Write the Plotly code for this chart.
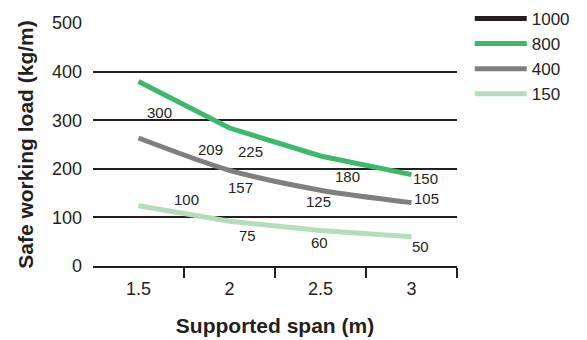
import plotly.graph_objects as go

# Supported span (m)
spans = [1.5, 2, 2.5, 3]
span_labels = ["1.5", "2", "2.5", "3"]

# Safe working load (kg/m) per series
load_1000 = [None, None, None, None]
load_800 = [300, 225, 180, 150]
load_400 = [209, 157, 125, 105]
load_150 = [100, 75, 60, 50]

series_names = ["1000", "800", "400", "150"]
series_values = [load_1000, load_800, load_400, load_150]
series_colors = ["#231f20", "#3cb96a", "#7f7f7d", "#b2dfba"]
series_shapes = ["linear", "linear", "spline", "linear"]
series_axes = ["y", "y2", "y2", "y2"]

# Pixel offsets of each value label from its point
label_offsets = {
    "800": [(21, -31), (21, -23), (27, -20), (14, -4)],
    "400": [(72, -12), (11, -17), (-2, -11), (15, 4)],
    "150": [(48, 6), (18, -14), (-1, -12), (9, -10)],
}

INK = "#231f20"
FONT = "Liberation Sans, Arial, sans-serif"

fig = go.Figure()

for name, vals, color, shape, ax in zip(series_names, series_values, series_colors,
                                        series_shapes, series_axes):
    fig.add_trace(go.Scatter(
        x=spans, y=vals, name=name, mode="lines",
        line=dict(color=color, width=5, shape=shape, smoothing=0.8),
        yaxis=ax, showlegend=True, hoverinfo="skip",
    ))

annotations = []
for name, vals in zip(series_names, series_values):
    if name not in label_offsets:
        continue
    for x, v, (dx, dy) in zip(spans, vals, label_offsets[name]):
        annotations.append(dict(
            x=x, y=v, xref="x", yref="y2", text=str(v), showarrow=False,
            xshift=dx, yshift=dy, font=dict(size=15, color=INK, family=FONT),
        ))

fig.update_layout(
    width=587, height=340,
    margin=dict(l=93, r=130, t=23, b=74, autoexpand=False),
    paper_bgcolor="white", plot_bgcolor="white",
    font=dict(family=FONT, color=INK),
    annotations=annotations,
    xaxis=dict(
        range=[1.25, 3.25], automargin=False,
        tickvals=spans, ticktext=span_labels, ticks="",
        tickfont=dict(size=18, color=INK),
        showgrid=False, zeroline=False,
        showline=True, linecolor=INK, linewidth=1.5,
        minor=dict(tickvals=[1.75, 2.25, 2.75, 3.25], ticks="outside",
                   ticklen=10, tickwidth=1.5, tickcolor=INK, showgrid=False),
        ticklabelstandoff=6,
        title=dict(text="<b>Supported span (m)</b>", font=dict(size=21, color=INK),
                   standoff=20),
    ),
    yaxis=dict(
        range=[0, 500], tickvals=[0, 100, 200, 300, 400, 500], automargin=False,
        tickfont=dict(size=18, color=INK), ticks="",
        showgrid=True, gridcolor=INK, gridwidth=1.5,
        zeroline=False, showline=False,
        ticklabelstandoff=10,
        title=dict(text="<b>Safe working load (kg/m)</b>", font=dict(size=21, color=INK),
                   standoff=12),
    ),
    yaxis2=dict(overlaying="y", range=[3, 394], visible=False),
    legend=dict(
        x=1.035, y=1.091, xanchor="left", yanchor="top",
        font=dict(size=17, color=INK), itemwidth=52,
        bgcolor="rgba(0,0,0,0)", tracegroupgap=0,
    ),
)

fig.write_html("out.html")
